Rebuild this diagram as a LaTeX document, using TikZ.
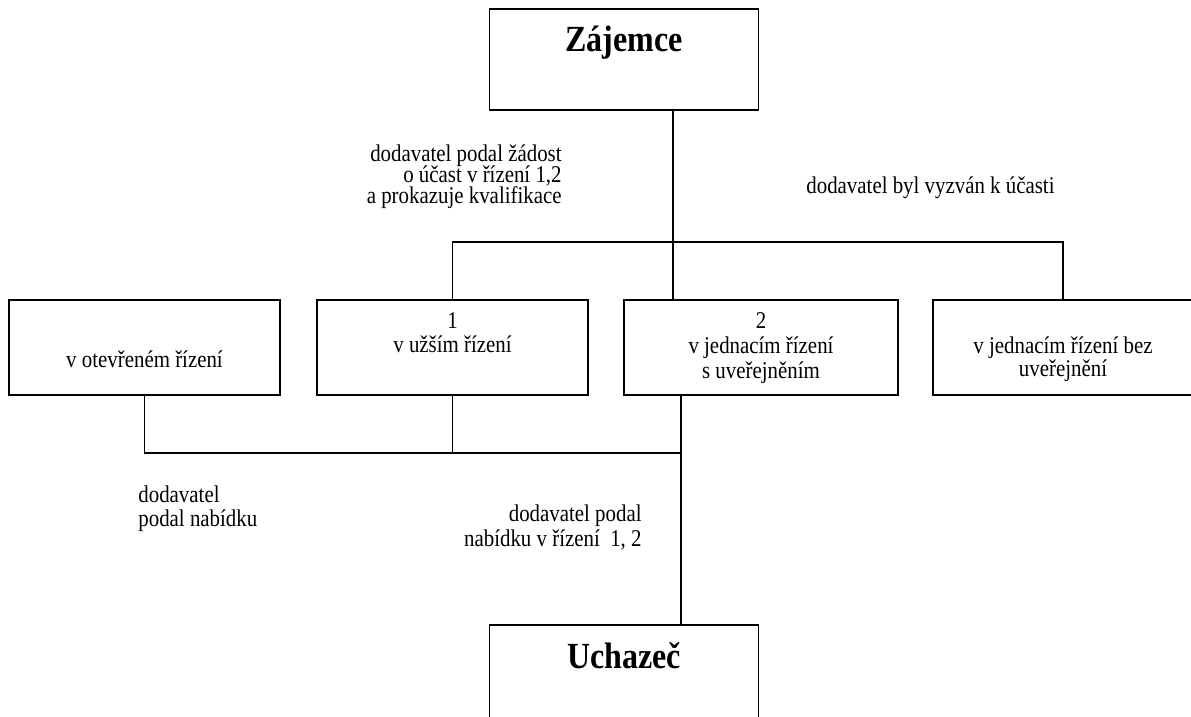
\documentclass[tikz,border=0pt]{standalone}
\usepackage{fontspec}
\setmainfont[FakeStretch=0.87]{Liberation Serif}
\newcommand\snuglines{\lineskiplimit=-20pt\relax}
\begin{document}
\begin{tikzpicture}[x=0.5pt, y=-0.5pt,
    box/.style={draw, line width=0.9pt, inner sep=0pt, outer sep=0pt, minimum height=47.5pt},
    bigbox/.style={box, minimum width=134.5pt, minimum height=50.5pt},
    txt/.style={inner sep=0pt, font=\fontsize{12}{12.5}\selectfont},
    bigtxt/.style={inner sep=0pt, font=\fontsize{18.4}{21}\selectfont\bfseries},
    wire/.style={line width=0.9pt}]
        \useasboundingbox (0,0) rectangle (1191,717);
        % main boxes
        \node[bigbox] (zaj) at (624, 59.5) {};
        \node[bigbox] (uch) at (624, 675.5) {};
        \node[bigtxt, anchor=base] (zajT) at (624, 52) {Zájemce};
        \node[bigtxt, anchor=base] (uchT) at (624, 668) {Uchazeč};
        % the four kinds of procedure
        \node[box, minimum width=135.5pt] (otev) at (144.5, 347.5) {};
        \node[box, minimum width=135.5pt] (uzsi) at (452.5, 347.5) {};
        \node[box, minimum width=137pt] (jsuv) at (761, 347.5) {};
        \node[box, minimum width=130pt] (jbez) at (1063, 347.5) {};
        \node[txt, anchor=base] (otevT) at (144.5, 368) {v otevřeném řízení};
        \node[txt, anchor=base, align=center] (uzsiT) at (452.5, 353) {1\\v užším řízení};
        \node[txt, anchor=base, align=center] (jsuvT) at (761, 379) {2\\v jednacím řízení\\s uveřejněním};
        \node[txt, font=\fontsize{12}{11.5}\selectfont, anchor=base, align=center] (jbezT) at (1063, 377)
            {v jednacím řízení bez\\uveřejnění};
        % labels
        \node[txt, font=\fontsize{12}{10.6}\selectfont\snuglines, anchor=base east, align=right] (zadost) at (562, 203.5)
            {dodavatel podal žádost\\o účast v řízení 1,2\\a prokazuje kvalifikace};
        \node[txt, anchor=base west] (vyzva) at (806, 194) {dodavatel byl vyzván k účasti};
        \node[txt, font=\fontsize{12}{12}\selectfont, anchor=base west, align=left] (nabA) at (138, 526)
            {dodavatel\\podal nabídku};
        \node[txt, anchor=base east, align=right] (nabB) at (642, 546)
            {dodavatel podal\\nabídku v řízení \ 1, 2};
        % connectors
        \coordinate (hub) at (673, 242);
        \coordinate (low) at (681, 453);
        \draw[wire] (zaj.south -| hub) -- (hub) -- (jsuv.north -| hub);
        \draw[wire] (uzsi.north) |- (hub) -| (jbez.north);
        \draw[wire] (otev.south) |- (low);
        \draw[wire] (uzsi.south) -- (uzsi.south |- low);
        \draw[wire] (jsuv.south -| low) -- (uch.north -| low);
\end{tikzpicture}
\end{document}
